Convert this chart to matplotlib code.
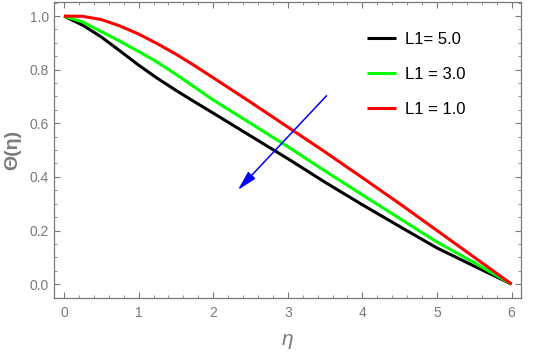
import matplotlib
matplotlib.use("Agg")
import matplotlib.pyplot as plt
from matplotlib.ticker import MultipleLocator

# eta grid and temperature profiles
eta = [0, 0.25, 0.5, 0.75, 1.0, 1.25, 1.5, 1.75, 2.0, 2.5, 3.0, 3.5, 4.0, 4.5, 5.0, 5.5, 6.0]
theta_L5 = [1.0, 0.966, 0.922, 0.87, 0.817, 0.768, 0.723, 0.68, 0.638, 0.553, 0.468, 0.38, 0.296, 0.215, 0.135, 0.067, 0.0]
theta_L3 = [1.0, 0.978, 0.942, 0.906, 0.868, 0.828, 0.783, 0.735, 0.687, 0.60, 0.513, 0.422, 0.333, 0.245, 0.157, 0.08, 0.0]
theta_L1 = [1.0, 0.999, 0.987, 0.963, 0.933, 0.897, 0.858, 0.815, 0.77, 0.679, 0.586, 0.493, 0.397, 0.30, 0.20, 0.10, 0.0]

labels = ["L1= 5.0", "L1 = 3.0", "L1 = 1.0"]
colors = ["black", "#00ff00", "red"]

# arrow (tail -> head) in data units
arrow_tail = (3.52, 0.703)
arrow_head = (2.33, 0.351)

plt.rcParams["font.family"] = ["Liberation Sans", "DejaVu Sans"]
grey = "#7a7a7a"

fig = plt.figure(figsize=(5.41, 3.54), dpi=100)
ax = fig.add_axes([0.1004, 0.158, 0.8626, 0.836])

for ys, c, lab in zip([theta_L5, theta_L3, theta_L1], colors, labels):
    ax.plot(eta, ys, color=c, lw=2.2, label=lab, solid_capstyle="butt")

ax.annotate("", xy=arrow_head, xytext=arrow_tail,
            arrowprops=dict(arrowstyle="-|>,head_length=1.2,head_width=0.3",
                            color="blue", lw=1.1, shrinkA=0, shrinkB=0))

ax.set_xlim(-0.13, 6.126)
ax.set_ylim(-0.052, 1.052)
ax.xaxis.set_major_locator(MultipleLocator(1))
ax.xaxis.set_minor_locator(MultipleLocator(0.2))
ax.yaxis.set_major_locator(MultipleLocator(0.2))
ax.yaxis.set_minor_locator(MultipleLocator(0.05))
ax.tick_params(which="both", direction="in", top=True, right=True, color=grey,
               labelcolor=grey, labelsize=10)
ax.tick_params(which="major", length=4.5, width=0.8)
ax.tick_params(which="minor", length=2.5, width=0.6)
ax.tick_params(axis="x", pad=6)
ax.tick_params(axis="y", pad=4)
for s in ax.spines.values():
    s.set_color(grey)
    s.set_linewidth(0.9)

fig.text(0.024, 0.576, "Θ(η)", rotation=90, color=grey, fontsize=14,
         fontweight="bold", ha="center", va="center")
fig.text(0.532, 0.04, "η", color=grey, fontsize=15, fontstyle="italic",
         ha="center", va="center")

ax.legend(loc="upper left", bbox_to_anchor=(0.678, 0.91),
          bbox_transform=fig.transFigure, frameon=False, fontsize=12,
          handlelength=1.75, handletextpad=0.55, labelspacing=1.2,
          borderpad=0, borderaxespad=0)

fig.savefig("out.png", dpi=100)
